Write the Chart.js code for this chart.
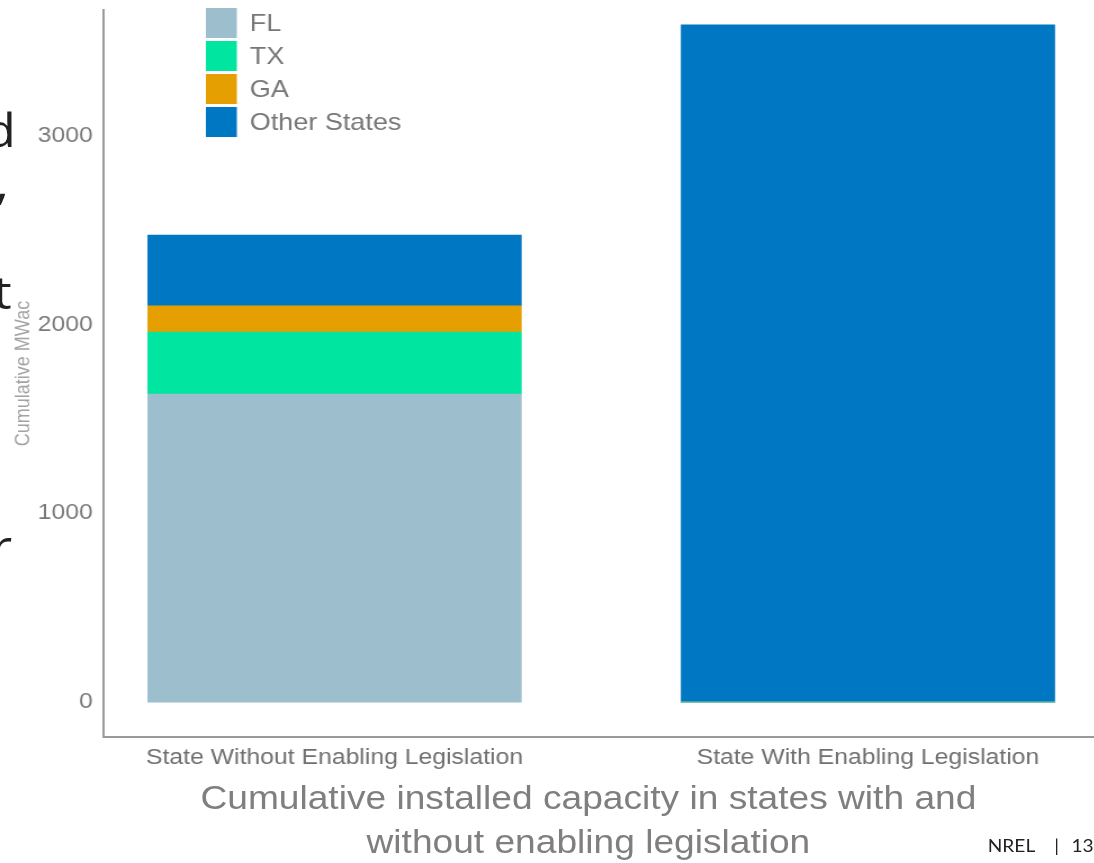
<!DOCTYPE html>
<html>
<head>
<meta charset="utf-8">
<script src="https://cdn.jsdelivr.net/npm/chart.js@4.4.1/dist/chart.umd.min.js"></script>
<style>
  html, body { margin: 0; padding: 0; background: #fff; }
  body { width: 1094px; height: 863px; position: relative; overflow: hidden; font-family: "Liberation Sans", Arial, sans-serif; }
  /* the slide art is laid out on a 973px-wide board and widened to the full 1094px */
  #board { position: absolute; left: 0; top: 0; width: 973px; height: 863px; transform: scaleX(1.125); transform-origin: 0 0; }
  #wrap { position: absolute; left: 0; top: 0; width: 973px; height: 780px; }
  #caption { position: absolute; left: 23px; width: 1000px; top: 776px; text-align: center; color: #7f7f7f; font-size: 33px; line-height: 44px; white-space: nowrap; }
  #footer { position: absolute; left: 878px; top: 835px; font-family: Lato, "Open Sans", sans-serif; font-size: 17px; color: #222; white-space: nowrap; }
  #footer span { display: inline-block; margin: 0 11px 0 17px; }
  .edge { position: absolute; font-family: "Open Sans", "DejaVu Sans", sans-serif; font-size: 46px; color: #222; line-height: 1; }
</style>
</head>
<body>
<div id="board">
  <div id="wrap"><canvas id="c" width="973" height="780"></canvas></div>
  <div class="edge" style="left:-14px; top:106px;">d</div>
  <div class="edge" style="left:-4px; top:158px;">,</div>
  <div class="edge" style="left:-6px; top:268px;">t</div>
  <div class="edge" style="left:-8px; top:522px;">r</div>
  <div id="caption">Cumulative installed capacity in states with and<br>without enabling legislation</div>
  <div id="footer">NREL<span>|</span>13</div>
</div>
<script>
// Categories and stacked series (MWac, cumulative)
const categories = ["State Without Enabling Legislation", "State With Enabling Legislation"];
const seriesNames = ["FL", "TX", "GA", "Other States"];
const flValues = [1632, 0];
const txValues = [329, 0];
const gaValues = [138, 0];
const otherValues = [376, 3588];
const yTickValues = [0, 1000, 2000, 3000];

const colors = ["#9dbfcd", "#00e5a0", "#e69f00", "#0077c2"];
const seriesValues = [flValues, txValues, gaValues, otherValues];

// Categories sit at positions 1, 2 on a linear axis
const toPoints = vals => vals.map((v, i) => ({ x: i + 1, y: v }));

const datasets = seriesNames.map((name, k) => ({
  label: name,
  data: toPoints(seriesValues[k]),
  backgroundColor: colors[k],
  borderWidth: 0,
  barThickness: 332
}));

// Stacked legend block drawn at the upper left of the plot
const legendBlock = {
  id: 'legendBlock',
  afterDraw(chart, args, opts) {
    const ctx = chart.ctx;
    ctx.save();
    ctx.font = '24px "Liberation Sans", Arial, sans-serif';
    ctx.textBaseline = 'middle';
    chart.data.datasets.forEach((ds, i) => {
      const cy = opts.top + i * opts.step;
      ctx.fillStyle = ds.backgroundColor;
      ctx.fillRect(opts.left, cy - opts.box / 2, opts.boxW, opts.box);
      ctx.fillStyle = '#777777';
      ctx.fillText(ds.label, opts.left + opts.boxW + 11.5, cy + 1);
    });
    ctx.restore();
  }
};

new Chart(document.getElementById('c'), {
  type: 'bar',
  data: { datasets },
  plugins: [legendBlock],
  options: {
    responsive: false,
    animation: false,
    layout: { padding: 0 },
    plugins: {
      legend: { display: false },
      tooltip: { enabled: false },
      legendBlock: { left: 183, top: 23, step: 33, box: 30, boxW: 27.5 }
    },
    scales: {
      x: {
        type: 'linear',
        stacked: true,
        offset: false,
        min: 0.5658,
        max: 2.4250,
        afterBuildTicks: s => { s.ticks = categories.map((c, i) => ({ value: i + 1 })); },
        afterFit: s => { s.height = 43; },
        grid: { display: false, offset: false, drawTicks: false },
        border: { display: true, color: '#9a9a9a', width: 2 },
        ticks: {
          callback: v => categories[v - 1],
          color: '#707070',
          font: { size: 22, family: '"Liberation Sans", Arial, sans-serif' },
          padding: 8,
          maxRotation: 0,
          autoSkip: false
        }
      },
      y: {
        stacked: true,
        min: -185,
        max: 3667,
        afterBuildTicks: s => { s.ticks = yTickValues.map(v => ({ value: v })); },
        afterFit: s => { s.width = 91.5; s.paddingTop = 10; s.paddingBottom = 0; },
        grid: { display: false, drawTicks: false },
        border: { display: true, color: '#9a9a9a', width: 2 },
        ticks: {
          callback: v => String(v),
          color: '#7a7a7a',
          font: { size: 22, family: '"Liberation Sans", Arial, sans-serif' },
          padding: 9
        },
        title: {
          display: true,
          text: 'Cumulative MWac',
          color: '#a3a3a3',
          font: { size: 18, family: '"Liberation Sans", Arial, sans-serif' },
          padding: { top: 10, bottom: 0 }
        }
      }
    }
  }
});
</script>
</body>
</html>
